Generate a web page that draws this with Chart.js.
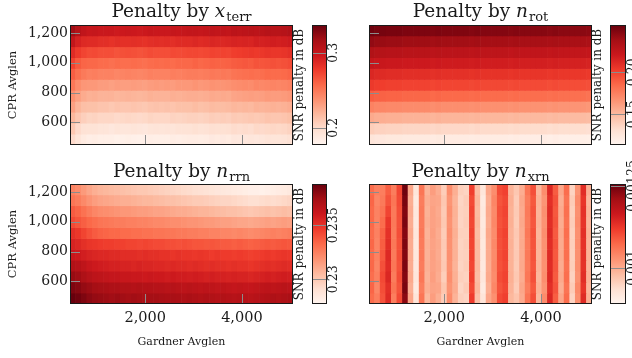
<!DOCTYPE html>
<html>
<head>
<meta charset="utf-8">
<script src="https://cdn.jsdelivr.net/npm/chart.js@4.4.0/dist/chart.umd.min.js"></script>
<style>
  html, body { margin: 0; padding: 0; background: #fff; }
  #wrap { position: relative; width: 632px; height: 358px; overflow: hidden; }
  #wrap canvas { position: absolute; }
</style>
</head>
<body>
<div id="wrap"></div>
<script>
//---------------------------------------------------------------------------
// Grid of the parameter sweep
const gardnerAvglen = [500, 615, 731, 846, 962, 1077, 1192, 1308, 1423, 1538, 1654, 1769, 1885, 2000, 2115, 2231, 2346, 2462, 2577, 2692,
                       2808, 2923, 3038, 3154, 3269, 3385, 3500, 3615, 3731, 3846, 3962, 4077, 4192, 4308, 4423, 4538, 4654, 4769, 4885, 5000];
const cprAvglen = [485, 558, 632, 705, 778, 851, 924, 998, 1071, 1144, 1217];
const xTicks = [2000, 4000];
const yTicks = [600, 800, 1000, 1200];

// SNR penalty, one row per CPR avglen (lowest first), one value per Gardner avglen
// x_terr, in 1e-3 dB
const xterrPenalty = [
  [200,192,187,184,185,183,183,183,181,182,183,182,181,182,184,183,183,183,185,184,185,186,186,185,186,188,187,188,187,190,189,190,191,190,191,193,192,192,193,195],
  [210,200,195,194,194,192,192,190,192,191,191,192,191,190,192,193,192,193,192,194,194,194,196,194,195,197,196,196,197,199,198,199,198,201,200,201,202,201,202,204],
  [219,211,206,203,204,202,202,202,200,201,202,201,200,201,203,202,202,202,204,203,204,205,205,204,205,207,206,207,206,209,208,209,210,209,210,212,211,211,212,214],
  [230,220,215,214,214,212,212,210,212,211,211,212,211,210,212,213,212,213,212,214,214,214,216,214,215,217,216,216,217,219,218,219,218,221,220,221,222,221,222,224],
  [238,230,225,222,223,221,221,221,219,220,221,220,219,220,222,221,221,221,223,222,223,224,224,223,224,226,225,226,225,228,229,230,231,230,231,233,232,232,233,235],
  [250,240,235,234,234,232,232,230,232,231,231,232,231,230,232,233,232,233,232,234,234,234,236,234,235,237,236,236,237,239,240,241,240,243,242,243,244,243,244,246],
  [262,254,249,246,247,245,245,245,243,244,245,244,243,244,246,245,245,245,247,246,247,248,248,247,248,250,249,250,249,252,253,254,255,254,255,257,256,256,257,259],
  [274,264,259,258,258,256,256,254,256,255,255,256,255,254,256,257,256,257,256,258,258,258,260,258,259,261,260,260,261,263,264,265,264,267,266,267,268,267,268,270],
  [286,278,273,270,271,269,269,269,267,268,269,268,267,268,270,269,269,269,271,270,271,272,272,271,272,274,273,274,273,276,277,278,279,278,279,281,280,280,281,283],
  [302,292,287,286,286,284,284,282,284,283,283,284,283,282,284,285,284,285,284,286,286,286,288,286,287,289,288,288,289,291,290,291,290,293,292,293,294,293,294,296],
  [318,309,303,299,300,298,298,298,296,297,298,297,296,297,299,298,298,298,300,299,300,301,301,300,301,303,302,303,302,305,304,305,306,305,306,308,307,307,308,310]
];
// n_rot, in 1e-3 dB
const nrotPenalty = [
  [127,125,125,124,124,124,123,123,123,123,123,122,123,122,122,122,122,122,121,122,121,121,121,121,121,120,121,120,120,120,120,120,119,120,119,119,119,119,119,118],
  [140,138,138,137,137,137,136,136,136,136,136,135,136,135,135,135,135,135,134,135,134,134,134,134,134,133,134,133,133,133,133,133,132,133,132,132,132,132,132,131],
  [157,155,155,154,154,154,153,153,153,153,153,152,153,152,152,152,152,152,151,152,151,151,151,151,151,150,151,150,150,150,150,150,149,150,149,149,149,149,149,148],
  [174,172,172,171,171,171,170,170,170,170,170,169,170,169,169,169,169,169,168,169,168,168,168,168,168,167,168,167,167,167,167,167,166,167,166,166,166,166,166,165],
  [190,188,188,187,187,187,186,186,186,186,186,185,186,185,185,185,185,185,184,185,184,184,184,184,184,183,184,183,183,183,183,183,182,183,182,182,182,182,182,181],
  [204,202,202,201,201,201,200,200,200,200,200,199,200,199,199,199,199,199,198,199,198,198,198,198,198,197,198,197,197,197,197,197,196,197,196,196,196,196,196,195],
  [213,211,211,210,210,210,209,209,209,209,209,208,209,208,208,208,208,208,207,208,207,207,207,207,207,206,207,206,206,206,206,206,205,206,205,205,205,205,205,204],
  [224,222,222,221,221,221,220,220,220,220,220,219,220,219,219,219,219,219,218,219,218,218,218,218,218,217,218,217,217,217,217,217,216,217,216,216,216,216,216,215],
  [233,231,231,230,230,230,229,229,229,229,229,228,229,228,228,228,228,228,227,228,227,227,227,227,227,226,227,226,226,226,226,226,225,226,225,225,225,225,225,224],
  [244,242,242,241,241,241,240,240,240,240,240,239,240,239,239,239,239,239,238,239,238,238,238,238,238,237,238,237,237,237,237,237,236,237,236,236,236,236,236,235],
  [254,252,252,251,251,251,250,250,250,250,250,249,250,249,249,249,249,249,248,249,248,248,248,248,248,247,248,247,247,247,247,247,246,247,246,246,246,246,246,245]
];
// n_rrn, in 1e-4 dB
const nrrnPenalty = [
  [2388,2386,2383,2380,2378,2377,2376,2375,2376,2375,2374,2375,2374,2373,2374,2374,2373,2372,2373,2372,2371,2372,2371,2370,2371,2370,2369,2370,2369,2368,2369,2368,2367,2368,2369,2370,2371,2370,2371,2372],
  [2383,2381,2378,2376,2374,2373,2372,2371,2371,2370,2370,2369,2370,2369,2369,2368,2368,2367,2368,2367,2366,2367,2366,2365,2366,2365,2364,2365,2364,2363,2364,2363,2363,2364,2365,2366,2365,2366,2367,2366],
  [2377,2375,2371,2368,2366,2365,2364,2363,2363,2362,2362,2361,2361,2360,2361,2360,2360,2359,2360,2359,2359,2358,2359,2358,2357,2358,2357,2357,2356,2357,2356,2356,2355,2356,2357,2358,2357,2358,2359,2358],
  [2370,2368,2365,2362,2360,2359,2358,2357,2357,2356,2356,2355,2356,2355,2355,2354,2354,2353,2354,2353,2353,2352,2353,2352,2351,2352,2351,2351,2350,2351,2350,2350,2349,2350,2351,2352,2351,2352,2353,2352],
  [2362,2360,2358,2356,2355,2354,2354,2353,2353,2352,2352,2352,2351,2352,2351,2351,2350,2350,2349,2350,2349,2349,2348,2349,2348,2347,2348,2347,2347,2346,2347,2346,2345,2346,2347,2348,2347,2348,2349,2348],
  [2356,2354,2351,2349,2348,2347,2346,2346,2345,2345,2344,2344,2343,2344,2343,2342,2342,2341,2341,2340,2341,2340,2339,2339,2338,2339,2338,2337,2337,2336,2337,2336,2335,2336,2337,2338,2337,2338,2339,2338],
  [2351,2348,2344,2340,2337,2335,2334,2333,2333,2332,2332,2331,2331,2330,2330,2329,2329,2328,2328,2327,2327,2326,2326,2325,2325,2324,2324,2323,2323,2322,2323,2322,2321,2322,2323,2324,2325,2324,2325,2326],
  [2342,2339,2336,2333,2331,2329,2328,2327,2326,2326,2325,2325,2324,2324,2323,2322,2322,2321,2320,2320,2319,2318,2318,2317,2316,2316,2315,2314,2314,2313,2312,2312,2311,2312,2313,2314,2313,2314,2315,2314],
  [2337,2334,2330,2326,2323,2321,2320,2319,2318,2317,2317,2316,2315,2315,2314,2313,2313,2312,2311,2310,2310,2309,2308,2307,2307,2306,2305,2304,2303,2303,2302,2301,2300,2301,2302,2303,2302,2303,2304,2303],
  [2329,2326,2322,2318,2315,2313,2312,2311,2310,2309,2309,2308,2307,2306,2306,2305,2304,2303,2303,2302,2301,2300,2299,2299,2298,2297,2296,2295,2295,2294,2293,2292,2291,2291,2292,2293,2292,2293,2294,2295],
  [2324,2321,2316,2312,2309,2307,2306,2305,2304,2303,2302,2301,2300,2300,2299,2298,2297,2296,2295,2294,2293,2292,2291,2290,2289,2288,2287,2286,2285,2284,2283,2282,2281,2281,2280,2281,2282,2283,2284,2285]
];
// n_xrn, in 1e-6 dB
const nxrnPenalty = [
  [1070,1050,1095,1140,1050,1105,1230,1005,925,1060,985,1015,995,960,1035,990,955,950,1120,975,925,1005,1030,1105,1115,985,970,1000,1060,1100,985,1035,1145,1085,1005,1070,950,1030,1140,995],
  [1078,1040,1100,1135,1060,1095,1242,995,915,1050,995,1008,1005,968,1025,998,948,960,1105,985,915,995,1040,1095,1108,990,960,1005,1050,1090,992,1025,1135,1095,995,1062,960,1035,1128,988],
  [1068,1048,1105,1145,1052,1102,1235,1002,922,1058,990,1014,998,958,1032,994,955,952,1115,980,922,1002,1034,1102,1112,994,966,998,1058,1098,986,1032,1142,1088,1002,1068,953,1026,1136,994],
  [1075,1042,1098,1138,1058,1096,1240,998,918,1052,994,1010,1002,965,1027,990,950,958,1108,984,918,998,1038,1097,1108,992,962,1002,1053,1093,990,1028,1138,1092,998,1064,958,1031,1131,990],
  [1072,1046,1090,1142,1054,1100,1236,1001,920,1056,991,1012,999,962,1030,993,953,955,1112,981,920,1001,1035,1100,1111,991,964,1000,1056,1096,988,1030,1140,1090,1001,1067,955,1029,1133,993],
  [1076,1043,1085,1136,1057,1097,1239,999,917,1053,993,1009,1001,964,1028,991,951,957,1109,983,917,999,1037,1098,1109,993,963,1001,1054,1094,989,1027,1137,1093,999,1065,957,1032,1130,991],
  [1071,1047,1080,1132,1053,1101,1234,1003,921,1057,990,1013,998,961,1031,994,954,954,1113,980,921,1003,1034,1101,1112,990,965,999,1057,1097,987,1031,1141,1089,1002,1068,954,1028,1134,994],
  [1074,1044,1070,1125,1056,1098,1241,997,916,1054,995,1010,1003,966,1026,990,950,958,1107,985,916,997,1039,1096,1107,994,961,1003,1052,1092,991,1026,1136,1094,997,1063,959,1033,1129,989],
  [1073,1045,1062,1110,1055,1100,1237,1000,919,1055,992,1011,1000,963,1029,992,952,956,1110,982,919,1000,1036,1099,1110,992,963,1000,1055,1095,989,1029,1139,1091,1000,1066,956,1029,1132,992],
  [1077,1041,1055,1095,1059,1104,1243,996,914,1051,996,1007,1004,967,1024,989,949,959,1104,986,914,996,1041,1094,1106,995,960,1004,1051,1091,992,1024,1134,1096,996,1061,961,1034,1127,987],
  [1069,1049,1050,1085,1051,1108,1250,1004,923,1059,989,1015,997,959,1033,995,956,951,1116,979,923,1004,1033,1103,1113,989,967,997,1059,1099,985,1033,1143,1087,1004,1069,952,1025,1137,996]
];

// Colorbar limits (dB) and their ticks
const xterrRange = [0.177, 0.337];    const xterrTicks = [0.2, 0.3];       const xterrTickLabels = ['0.2', '0.3'];
const nrotRange = [0.1135, 0.2563];   const nrotTicks = [0.15, 0.2];       const nrotTickLabels = ['0.15', '0.20'];
const nrrnRange = [0.22771, 0.23882]; const nrrnTicks = [0.23, 0.235];     const nrrnTickLabels = ['0.23', '0.235'];
const nxrnRange = [0.00089, 0.001256];const nxrnTicks = [0.001, 0.00125]; const nxrnTickLabels = ['0.001', '0.00125'];

//---------------------------------------------------------------------------
const SERIF = '"DejaVu Serif", "Liberation Serif", serif';
const INK = '#1a1a1a';
Chart.defaults.font.family = SERIF;
Chart.defaults.color = INK;

// ColorBrewer "Reds"
const REDS = ['#fff5f0', '#fee0d2', '#fcbba1', '#fc9272', '#fb6a4a', '#ef3b2c', '#cb181d', '#a50f15', '#67000d'];
const REDS_RGB = REDS.map(h => [1, 3, 5].map(i => parseInt(h.substr(i, 2), 16)));
function reds(t) {
    t = Math.max(0, Math.min(1, t));
    const p = t * (REDS.length - 1);
    const i = Math.min(REDS.length - 2, Math.floor(p));
    const f = p - i;
    const a = REDS_RGB[i], b = REDS_RGB[i + 1];
    return 'rgb(' + a.map((v, k) => Math.round(v + (b[k] - v) * f)).join(',') + ')';
}

// cell edges half way between neighbouring grid points
function edges(c) {
    const e = [c[0] - (c[1] - c[0]) / 2];
    for (let i = 1; i < c.length; i++) e.push((c[i - 1] + c[i]) / 2);
    e.push(c[c.length - 1] + (c[c.length - 1] - c[c.length - 2]) / 2);
    return e;
}

function addCanvas(left, top, w, h) {
    const c = document.createElement('canvas');
    c.width = w; c.height = h;
    c.style.left = left + 'px'; c.style.top = top + 'px';
    document.getElementById('wrap').appendChild(c);
    return c;
}

//---------------------------------------------------------------------------
// Title "Penalty by <var>_<sub>" in math style
const mathTitle = {
    id: 'mathTitle',
    afterDraw(chart, args, o) {
        const ctx = chart.ctx, a = chart.chartArea;
        const big = '18.5px ' + SERIF, small = '13px ' + SERIF, main = 'Penalty by ';
        ctx.save();
        ctx.fillStyle = INK;
        ctx.font = big; const w1 = ctx.measureText(main).width;
        ctx.font = 'italic ' + big; const w2 = ctx.measureText(o.v).width;
        ctx.font = small; const w3 = ctx.measureText(o.sub).width;
        let x = (a.left + a.right) / 2 - (w1 + w2 + w3 + 1) / 2;
        ctx.font = big; ctx.fillText(main, x, o.y); x += w1;
        ctx.font = 'italic ' + big; ctx.fillText(o.v, x, o.y); x += w2 + 1;
        ctx.font = small; ctx.fillText(o.sub, x, o.y + 4);
        ctx.restore();
    }
};

// inner tick marks and frame of a heat map
const heatFrame = {
    id: 'heatFrame',
    afterDatasetsDraw(chart) {
        const { ctx, chartArea: a, scales: { x, y } } = chart;
        ctx.save();
        ctx.strokeStyle = '#8c8c8c';
        ctx.lineWidth = 1;
        ctx.beginPath();
        x.ticks.forEach(t => {
            const px = Math.round(x.getPixelForValue(t.value)) + 0.5;
            ctx.moveTo(px, a.bottom); ctx.lineTo(px, a.bottom - 10);
        });
        y.ticks.forEach(t => {
            const py = Math.round(y.getPixelForValue(t.value)) + 0.5;
            ctx.moveTo(a.left, py); ctx.lineTo(a.left + 10, py);
        });
        ctx.stroke();
        ctx.strokeStyle = INK;
        ctx.strokeRect(a.left + 0.5, a.top + 0.5, a.right - a.left - 1, a.bottom - a.top - 1);
        ctx.restore();
    }
};

// colorbar: tick lines, rotated tick labels, frame and label
const barFrame = {
    id: 'barFrame',
    afterDatasetsDraw(chart, args, o) {
        const { ctx, chartArea: a, scales: { y } } = chart;
        ctx.save();
        ctx.strokeStyle = '#8c8c8c';
        ctx.lineWidth = 1;
        ctx.beginPath();
        o.ticks.forEach(v => {
            const py = Math.round(y.getPixelForValue(v)) + 0.5;
            ctx.moveTo(a.left, py); ctx.lineTo(a.right, py);
        });
        ctx.stroke();
        ctx.strokeStyle = INK;
        ctx.strokeRect(a.left + 0.5, a.top + 0.5, a.right - a.left - 1, a.bottom - a.top - 1);

        ctx.fillStyle = INK;
        ctx.textAlign = 'center';
        ctx.textBaseline = 'middle';
        ctx.font = '12.5px ' + SERIF;
        o.ticks.forEach((v, i) => {
            ctx.save();
            ctx.translate(a.right + 7, y.getPixelForValue(v));
            ctx.rotate(-Math.PI / 2);
            ctx.fillText(o.labels[i], 0, 0);
            ctx.restore();
        });
        ctx.font = '12px ' + SERIF;
        ctx.translate(a.left - 12, (a.top + a.bottom) / 2);
        ctx.rotate(-Math.PI / 2);
        ctx.fillText('SNR penalty in dB', 0, 0);
        ctx.restore();
    }
};

//---------------------------------------------------------------------------
function heatmap(p) {
    const xe = edges(gardnerAvglen), ye = edges(cprAvglen);
    const lo = p.range[0], hi = p.range[1];
    const data = [];
    p.rows.forEach((row, r) => row.forEach((v, c) => {
        data.push({ x: gardnerAvglen[c], y: [ye[r], ye[r + 1]], v: v * p.unit });
    }));
    const canvas = addCanvas(p.left, p.top, 300, p.bottomRow ? 198 : 160);
    new Chart(canvas, {
        type: 'bar',
        data: {
            datasets: [{
                data: data,
                backgroundColor: ctx => reds((ctx.raw.v - lo) / (hi - lo)),
                borderWidth: 0,
                barPercentage: 1,
                categoryPercentage: 1
            }]
        },
        options: {
            responsive: false,
            animation: false,
            devicePixelRatio: 1,
            events: [],
            layout: { padding: { top: p.bottomRow ? 24 : 25, right: p.left ? 8 : 7, left: 0, bottom: 0 } },
            plugins: {
                legend: { display: false },
                tooltip: { enabled: false },
                mathTitle: { v: p.v, sub: p.sub, y: 17 }
            },
            scales: {
                x: {
                    type: 'linear',
                    offset: false,
                    min: xe[0],
                    max: xe[xe.length - 1],
                    afterBuildTicks: s => { s.ticks = xTicks.map(v => ({ value: v })); },
                    afterFit: s => { s.height = p.bottomRow ? 54 : 15; },
                    grid: { display: false, drawTicks: false },
                    border: { display: false },
                    ticks: {
                        display: p.bottomRow,
                        maxRotation: 0,
                        padding: 6,
                        font: { size: 14.5 },
                        callback: v => v.toLocaleString('en-US')
                    },
                    title: {
                        display: p.bottomRow,
                        text: 'Gardner Avglen',
                        font: { size: 11 },
                        padding: { top: 4, bottom: 9 }
                    }
                },
                y: {
                    type: 'linear',
                    offset: false,
                    min: ye[0],
                    max: ye[ye.length - 1],
                    afterBuildTicks: s => { s.ticks = yTicks.map(v => ({ value: v })); },
                    afterFit: s => { s.width = p.left ? 69 : 70; },
                    grid: { display: false, drawTicks: false },
                    border: { display: false },
                    ticks: {
                        display: !p.left,
                        padding: 2,
                        font: { size: 14 },
                        callback: v => v.toLocaleString('en-US')
                    },
                    title: {
                        display: !p.left,
                        text: 'CPR Avglen',
                        font: { size: 11.5 },
                        padding: { top: 6, bottom: 4 }
                    }
                }
            }
        },
        plugins: [heatFrame, mathTitle]
    });
}

function colorbar(p) {
    const h = p.top ? 198 : 160;
    const canvas = addCanvas(p.left, p.top, p.width, h);
    new Chart(canvas, {
        type: 'bar',
        data: {
            labels: [''],
            datasets: [{
                data: [p.range],
                backgroundColor: ctx => {
                    const a = ctx.chart.chartArea;
                    if (!a) return REDS[4];
                    const g = ctx.chart.ctx.createLinearGradient(0, a.bottom, 0, a.top);
                    REDS.forEach((c, i) => g.addColorStop(i / (REDS.length - 1), c));
                    return g;
                },
                borderWidth: 0,
                barPercentage: 1,
                categoryPercentage: 1
            }]
        },
        options: {
            responsive: false,
            animation: false,
            devicePixelRatio: 1,
            events: [],
            layout: { padding: { top: p.top ? 24 : 25, bottom: p.top ? 54 : 15, left: p.padLeft, right: p.padRight } },
            plugins: {
                legend: { display: false },
                tooltip: { enabled: false },
                barFrame: { ticks: p.ticks, labels: p.labels }
            },
            scales: {
                x: { display: false },
                y: { display: false, min: p.range[0], max: p.range[1] }
            }
        },
        plugins: [barFrame]
    });
}

//---------------------------------------------------------------------------
heatmap({ rows: xterrPenalty, unit: 1e-3, range: xterrRange, v: 'x', sub: 'terr', left: 0, top: 0, bottomRow: false });
heatmap({ rows: nrotPenalty, unit: 1e-3, range: nrotRange, v: 'n', sub: 'rot', left: 300, top: 0, bottomRow: false });
heatmap({ rows: nrrnPenalty, unit: 1e-4, range: nrrnRange, v: 'n', sub: 'rrn', left: 0, top: 160, bottomRow: true });
heatmap({ rows: nxrnPenalty, unit: 1e-6, range: nxrnRange, v: 'n', sub: 'xrn', left: 300, top: 160, bottomRow: true });

colorbar({ range: xterrRange, ticks: xterrTicks, labels: xterrTickLabels, left: 288, top: 0, width: 60, padLeft: 24, padRight: 21 });
colorbar({ range: nrotRange, ticks: nrotTicks, labels: nrotTickLabels, left: 588, top: 0, width: 44, padLeft: 22, padRight: 6 });
colorbar({ range: nrrnRange, ticks: nrrnTicks, labels: nrrnTickLabels, left: 288, top: 160, width: 60, padLeft: 24, padRight: 21 });
colorbar({ range: nxrnRange, ticks: nxrnTicks, labels: nxrnTickLabels, left: 588, top: 160, width: 44, padLeft: 22, padRight: 6 });
</script>
</body>
</html>
